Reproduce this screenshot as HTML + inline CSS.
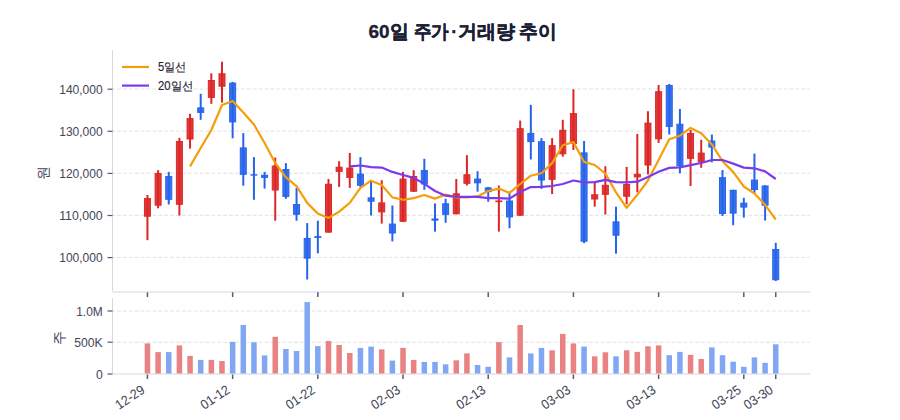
<!DOCTYPE html><html><head><meta charset="utf-8"><style>html,body{margin:0;padding:0;background:#fff;}svg{display:block;font-family:"Liberation Sans",sans-serif;}</style></head><body>
<svg width="900" height="420" viewBox="0 0 900 420">
<rect width="900" height="420" fill="#fff"/>
<line x1="112.5" y1="89.0" x2="810.0" y2="89.0" stroke="#e0e2e7" stroke-width="1" stroke-dasharray="3.9,2" stroke-dashoffset="1.4"/>
<line x1="112.5" y1="131.1" x2="810.0" y2="131.1" stroke="#e0e2e7" stroke-width="1" stroke-dasharray="3.9,2" stroke-dashoffset="1.4"/>
<line x1="112.5" y1="173.2" x2="810.0" y2="173.2" stroke="#e0e2e7" stroke-width="1" stroke-dasharray="3.9,2" stroke-dashoffset="1.4"/>
<line x1="112.5" y1="215.3" x2="810.0" y2="215.3" stroke="#e0e2e7" stroke-width="1" stroke-dasharray="3.9,2" stroke-dashoffset="1.4"/>
<line x1="112.5" y1="257.4" x2="810.0" y2="257.4" stroke="#e0e2e7" stroke-width="1" stroke-dasharray="3.9,2" stroke-dashoffset="1.4"/>
<line x1="112.5" y1="311.0" x2="810.0" y2="311.0" stroke="#e0e2e7" stroke-width="1" stroke-dasharray="3.9,2" stroke-dashoffset="1.4"/>
<line x1="112.5" y1="342.25" x2="810.0" y2="342.25" stroke="#e0e2e7" stroke-width="1" stroke-dasharray="3.9,2" stroke-dashoffset="1.4"/>
<line x1="112.5" y1="50.0" x2="112.5" y2="291.5" stroke="#d5d8df" stroke-width="1"/>
<line x1="112.5" y1="292" x2="810.0" y2="292" stroke="#d5d8df" stroke-width="1.2"/>
<line x1="112.5" y1="298.0" x2="112.5" y2="373.5" stroke="#d5d8df" stroke-width="1"/>
<line x1="112.5" y1="374" x2="810.0" y2="374" stroke="#d5d8df" stroke-width="1.2"/>
<line x1="107.5" y1="89.2" x2="112.5" y2="89.2" stroke="#555c6b" stroke-width="1.2"/>
<text x="102.7" y="94.0" text-anchor="end" font-size="13" fill="#3e4657" textLength="43.5" lengthAdjust="spacingAndGlyphs">140,000</text>
<line x1="107.5" y1="131.3" x2="112.5" y2="131.3" stroke="#555c6b" stroke-width="1.2"/>
<text x="102.7" y="136.10000000000002" text-anchor="end" font-size="13" fill="#3e4657" textLength="43.5" lengthAdjust="spacingAndGlyphs">130,000</text>
<line x1="107.5" y1="173.4" x2="112.5" y2="173.4" stroke="#555c6b" stroke-width="1.2"/>
<text x="102.7" y="178.20000000000002" text-anchor="end" font-size="13" fill="#3e4657" textLength="43.5" lengthAdjust="spacingAndGlyphs">120,000</text>
<line x1="107.5" y1="215.5" x2="112.5" y2="215.5" stroke="#555c6b" stroke-width="1.2"/>
<text x="102.7" y="220.3" text-anchor="end" font-size="13" fill="#3e4657" textLength="43.5" lengthAdjust="spacingAndGlyphs">110,000</text>
<line x1="107.5" y1="257.6" x2="112.5" y2="257.6" stroke="#555c6b" stroke-width="1.2"/>
<text x="102.7" y="262.40000000000003" text-anchor="end" font-size="13" fill="#3e4657" textLength="43.5" lengthAdjust="spacingAndGlyphs">100,000</text>
<line x1="107.5" y1="311.0" x2="112.5" y2="311.0" stroke="#555c6b" stroke-width="1.2"/>
<text x="102.7" y="316.2" text-anchor="end" font-size="13" fill="#3e4657" textLength="26.5" lengthAdjust="spacingAndGlyphs">1.0M</text>
<line x1="107.5" y1="342.2" x2="112.5" y2="342.2" stroke="#555c6b" stroke-width="1.2"/>
<text x="102.7" y="347.4" text-anchor="end" font-size="13" fill="#3e4657" textLength="28.5" lengthAdjust="spacingAndGlyphs">500K</text>
<line x1="107.5" y1="374" x2="112.5" y2="374" stroke="#555c6b" stroke-width="1.2"/>
<text x="102.7" y="379.2" text-anchor="end" font-size="13" fill="#3e4657" textLength="6.8" lengthAdjust="spacingAndGlyphs">0</text>
<line x1="147.45" y1="292.3" x2="147.45" y2="297" stroke="#555c6b" stroke-width="1.5"/>
<line x1="147.45" y1="374.5" x2="147.45" y2="379" stroke="#555c6b" stroke-width="1.5"/>
<text transform="translate(145.65,392.0) rotate(-34)" text-anchor="end" font-size="13.3" fill="#3e4657" textLength="32" lengthAdjust="spacingAndGlyphs">12-29</text>
<line x1="232.64" y1="292.3" x2="232.64" y2="297" stroke="#555c6b" stroke-width="1.5"/>
<line x1="232.64" y1="374.5" x2="232.64" y2="379" stroke="#555c6b" stroke-width="1.5"/>
<text transform="translate(230.84,392.0) rotate(-34)" text-anchor="end" font-size="13.3" fill="#3e4657" textLength="32" lengthAdjust="spacingAndGlyphs">01-12</text>
<line x1="317.84" y1="292.3" x2="317.84" y2="297" stroke="#555c6b" stroke-width="1.5"/>
<line x1="317.84" y1="374.5" x2="317.84" y2="379" stroke="#555c6b" stroke-width="1.5"/>
<text transform="translate(316.04,392.0) rotate(-34)" text-anchor="end" font-size="13.3" fill="#3e4657" textLength="32" lengthAdjust="spacingAndGlyphs">01-22</text>
<line x1="403.03" y1="292.3" x2="403.03" y2="297" stroke="#555c6b" stroke-width="1.5"/>
<line x1="403.03" y1="374.5" x2="403.03" y2="379" stroke="#555c6b" stroke-width="1.5"/>
<text transform="translate(401.23,392.0) rotate(-34)" text-anchor="end" font-size="13.3" fill="#3e4657" textLength="32" lengthAdjust="spacingAndGlyphs">02-03</text>
<line x1="488.22" y1="292.3" x2="488.22" y2="297" stroke="#555c6b" stroke-width="1.5"/>
<line x1="488.22" y1="374.5" x2="488.22" y2="379" stroke="#555c6b" stroke-width="1.5"/>
<text transform="translate(486.42,392.0) rotate(-34)" text-anchor="end" font-size="13.3" fill="#3e4657" textLength="32" lengthAdjust="spacingAndGlyphs">02-13</text>
<line x1="573.42" y1="292.3" x2="573.42" y2="297" stroke="#555c6b" stroke-width="1.5"/>
<line x1="573.42" y1="374.5" x2="573.42" y2="379" stroke="#555c6b" stroke-width="1.5"/>
<text transform="translate(571.62,392.0) rotate(-34)" text-anchor="end" font-size="13.3" fill="#3e4657" textLength="32" lengthAdjust="spacingAndGlyphs">03-03</text>
<line x1="658.61" y1="292.3" x2="658.61" y2="297" stroke="#555c6b" stroke-width="1.5"/>
<line x1="658.61" y1="374.5" x2="658.61" y2="379" stroke="#555c6b" stroke-width="1.5"/>
<text transform="translate(656.81,392.0) rotate(-34)" text-anchor="end" font-size="13.3" fill="#3e4657" textLength="32" lengthAdjust="spacingAndGlyphs">03-13</text>
<line x1="743.80" y1="292.3" x2="743.80" y2="297" stroke="#555c6b" stroke-width="1.5"/>
<line x1="743.80" y1="374.5" x2="743.80" y2="379" stroke="#555c6b" stroke-width="1.5"/>
<text transform="translate(742.00,392.0) rotate(-34)" text-anchor="end" font-size="13.3" fill="#3e4657" textLength="32" lengthAdjust="spacingAndGlyphs">03-25</text>
<line x1="775.75" y1="292.3" x2="775.75" y2="297" stroke="#555c6b" stroke-width="1.5"/>
<line x1="775.75" y1="374.5" x2="775.75" y2="379" stroke="#555c6b" stroke-width="1.5"/>
<text transform="translate(773.95,392.0) rotate(-34)" text-anchor="end" font-size="13.3" fill="#3e4657" textLength="32" lengthAdjust="spacingAndGlyphs">03-30</text>
<rect x="144.70" y="343.4" width="5.5" height="30.1" fill="#e98282"/>
<rect x="155.35" y="352.1" width="5.5" height="21.4" fill="#e98282"/>
<rect x="166.00" y="352.1" width="5.5" height="21.4" fill="#81a6f2"/>
<rect x="176.65" y="345.4" width="5.5" height="28.1" fill="#e98282"/>
<rect x="187.30" y="355.9" width="5.5" height="17.6" fill="#e98282"/>
<rect x="197.95" y="359.9" width="5.5" height="13.6" fill="#81a6f2"/>
<rect x="208.59" y="359.9" width="5.5" height="13.6" fill="#e98282"/>
<rect x="219.24" y="361.0" width="5.5" height="12.5" fill="#e98282"/>
<rect x="229.89" y="341.9" width="5.5" height="31.6" fill="#81a6f2"/>
<rect x="240.54" y="325.0" width="5.5" height="48.5" fill="#81a6f2"/>
<rect x="251.19" y="342.3" width="5.5" height="31.2" fill="#81a6f2"/>
<rect x="261.84" y="355.4" width="5.5" height="18.1" fill="#81a6f2"/>
<rect x="272.49" y="336.8" width="5.5" height="36.7" fill="#e98282"/>
<rect x="283.14" y="349.0" width="5.5" height="24.5" fill="#81a6f2"/>
<rect x="293.79" y="351.0" width="5.5" height="22.5" fill="#81a6f2"/>
<rect x="304.44" y="302.1" width="5.5" height="71.4" fill="#81a6f2"/>
<rect x="315.09" y="346.1" width="5.5" height="27.4" fill="#81a6f2"/>
<rect x="325.74" y="341.0" width="5.5" height="32.5" fill="#e98282"/>
<rect x="336.38" y="345.0" width="5.5" height="28.5" fill="#e98282"/>
<rect x="347.03" y="353.0" width="5.5" height="20.5" fill="#e98282"/>
<rect x="357.68" y="347.9" width="5.5" height="25.6" fill="#81a6f2"/>
<rect x="368.33" y="346.6" width="5.5" height="26.9" fill="#81a6f2"/>
<rect x="378.98" y="349.4" width="5.5" height="24.1" fill="#e98282"/>
<rect x="389.63" y="360.6" width="5.5" height="12.9" fill="#81a6f2"/>
<rect x="400.28" y="347.9" width="5.5" height="25.6" fill="#e98282"/>
<rect x="410.93" y="359.9" width="5.5" height="13.6" fill="#e98282"/>
<rect x="421.58" y="361.9" width="5.5" height="11.6" fill="#81a6f2"/>
<rect x="432.23" y="361.9" width="5.5" height="11.6" fill="#81a6f2"/>
<rect x="442.88" y="364.3" width="5.5" height="9.2" fill="#81a6f2"/>
<rect x="453.53" y="360.3" width="5.5" height="13.2" fill="#e98282"/>
<rect x="464.17" y="353.4" width="5.5" height="20.1" fill="#e98282"/>
<rect x="474.82" y="365.0" width="5.5" height="8.5" fill="#81a6f2"/>
<rect x="485.47" y="366.8" width="5.5" height="6.7" fill="#81a6f2"/>
<rect x="496.12" y="342.1" width="5.5" height="31.4" fill="#e98282"/>
<rect x="506.77" y="357.4" width="5.5" height="16.1" fill="#81a6f2"/>
<rect x="517.42" y="325.0" width="5.5" height="48.5" fill="#e98282"/>
<rect x="528.07" y="353.4" width="5.5" height="20.1" fill="#81a6f2"/>
<rect x="538.72" y="347.9" width="5.5" height="25.6" fill="#81a6f2"/>
<rect x="549.37" y="350.3" width="5.5" height="23.2" fill="#e98282"/>
<rect x="560.02" y="333.9" width="5.5" height="39.6" fill="#e98282"/>
<rect x="570.67" y="343.4" width="5.5" height="30.1" fill="#e98282"/>
<rect x="581.32" y="346.6" width="5.5" height="26.9" fill="#81a6f2"/>
<rect x="591.96" y="356.3" width="5.5" height="17.2" fill="#e98282"/>
<rect x="602.61" y="352.3" width="5.5" height="21.2" fill="#e98282"/>
<rect x="613.26" y="356.3" width="5.5" height="17.2" fill="#81a6f2"/>
<rect x="623.91" y="350.3" width="5.5" height="23.2" fill="#e98282"/>
<rect x="634.56" y="351.9" width="5.5" height="21.6" fill="#e98282"/>
<rect x="645.21" y="346.3" width="5.5" height="27.2" fill="#e98282"/>
<rect x="655.86" y="345.4" width="5.5" height="28.1" fill="#e98282"/>
<rect x="666.51" y="355.2" width="5.5" height="18.3" fill="#81a6f2"/>
<rect x="677.16" y="351.9" width="5.5" height="21.6" fill="#81a6f2"/>
<rect x="687.81" y="354.8" width="5.5" height="18.7" fill="#e98282"/>
<rect x="698.46" y="359.0" width="5.5" height="14.5" fill="#e98282"/>
<rect x="709.11" y="347.4" width="5.5" height="26.1" fill="#81a6f2"/>
<rect x="719.75" y="355.2" width="5.5" height="18.3" fill="#81a6f2"/>
<rect x="730.40" y="361.7" width="5.5" height="11.8" fill="#81a6f2"/>
<rect x="741.05" y="366.8" width="5.5" height="6.7" fill="#81a6f2"/>
<rect x="751.70" y="357.4" width="5.5" height="16.1" fill="#81a6f2"/>
<rect x="762.35" y="362.8" width="5.5" height="10.7" fill="#81a6f2"/>
<rect x="773.00" y="344.3" width="5.5" height="29.2" fill="#81a6f2"/>
<line x1="147.45" y1="195" x2="147.45" y2="240.2" stroke="#dc2626" stroke-width="2"/>
<rect x="144.45" y="198.6" width="6.0" height="17.6" fill="#dc2626" fill-opacity="0.9" stroke="#dc2626" stroke-width="1"/>
<line x1="158.10" y1="170.2" x2="158.10" y2="208.3" stroke="#dc2626" stroke-width="2"/>
<rect x="155.10" y="173.6" width="6.0" height="31.6" fill="#dc2626" fill-opacity="0.9" stroke="#dc2626" stroke-width="1"/>
<line x1="168.75" y1="171.9" x2="168.75" y2="204.5" stroke="#2563eb" stroke-width="2"/>
<rect x="165.75" y="176.5" width="6.0" height="22.8" fill="#2563eb" fill-opacity="0.9" stroke="#2563eb" stroke-width="1"/>
<line x1="179.40" y1="137.9" x2="179.40" y2="215.5" stroke="#dc2626" stroke-width="2"/>
<rect x="176.40" y="141.5" width="6.0" height="62.8" fill="#dc2626" fill-opacity="0.9" stroke="#dc2626" stroke-width="1"/>
<line x1="190.05" y1="113.8" x2="190.05" y2="148.6" stroke="#dc2626" stroke-width="2"/>
<rect x="187.05" y="118.6" width="6.0" height="20.4" fill="#dc2626" fill-opacity="0.9" stroke="#dc2626" stroke-width="1"/>
<line x1="200.70" y1="93.8" x2="200.70" y2="119.8" stroke="#2563eb" stroke-width="2"/>
<rect x="197.70" y="107.9" width="6.0" height="4.5" fill="#2563eb" fill-opacity="0.9" stroke="#2563eb" stroke-width="1"/>
<line x1="211.34" y1="73.3" x2="211.34" y2="103.8" stroke="#dc2626" stroke-width="2"/>
<rect x="208.34" y="80.5" width="6.0" height="16.9" fill="#dc2626" fill-opacity="0.9" stroke="#dc2626" stroke-width="1"/>
<line x1="221.99" y1="61.7" x2="221.99" y2="102.6" stroke="#dc2626" stroke-width="2"/>
<rect x="218.99" y="73.8" width="6.0" height="12.4" fill="#dc2626" fill-opacity="0.9" stroke="#dc2626" stroke-width="1"/>
<line x1="232.64" y1="81.9" x2="232.64" y2="138.3" stroke="#2563eb" stroke-width="2"/>
<rect x="229.64" y="83.1" width="6.0" height="38.8" fill="#2563eb" fill-opacity="0.9" stroke="#2563eb" stroke-width="1"/>
<line x1="243.29" y1="133.1" x2="243.29" y2="185.7" stroke="#2563eb" stroke-width="2"/>
<rect x="240.29" y="147.9" width="6.0" height="26.4" fill="#2563eb" fill-opacity="0.9" stroke="#2563eb" stroke-width="1"/>
<line x1="253.94" y1="157.1" x2="253.94" y2="199.8" stroke="#2563eb" stroke-width="2"/>
<rect x="250.94" y="174.8" width="6.0" height="0.3" fill="#2563eb" fill-opacity="0.9" stroke="#2563eb" stroke-width="1"/>
<line x1="264.59" y1="171.9" x2="264.59" y2="188.6" stroke="#2563eb" stroke-width="2"/>
<rect x="261.59" y="175.3" width="6.0" height="2.1" fill="#2563eb" fill-opacity="0.9" stroke="#2563eb" stroke-width="1"/>
<line x1="275.24" y1="157.6" x2="275.24" y2="220.7" stroke="#dc2626" stroke-width="2"/>
<rect x="272.24" y="166.0" width="6.0" height="24.0" fill="#dc2626" fill-opacity="0.9" stroke="#dc2626" stroke-width="1"/>
<line x1="285.89" y1="163.1" x2="285.89" y2="198.8" stroke="#2563eb" stroke-width="2"/>
<rect x="282.89" y="169.5" width="6.0" height="26.9" fill="#2563eb" fill-opacity="0.9" stroke="#2563eb" stroke-width="1"/>
<line x1="296.54" y1="187.9" x2="296.54" y2="220.7" stroke="#2563eb" stroke-width="2"/>
<rect x="293.54" y="204.5" width="6.0" height="9.8" fill="#2563eb" fill-opacity="0.9" stroke="#2563eb" stroke-width="1"/>
<line x1="307.19" y1="223.1" x2="307.19" y2="279.5" stroke="#2563eb" stroke-width="2"/>
<rect x="304.19" y="238.4" width="6.0" height="19.7" fill="#2563eb" fill-opacity="0.9" stroke="#2563eb" stroke-width="1"/>
<line x1="317.84" y1="220.7" x2="317.84" y2="253.3" stroke="#2563eb" stroke-width="2"/>
<rect x="314.84" y="236.7" width="6.0" height="0.7" fill="#2563eb" fill-opacity="0.9" stroke="#2563eb" stroke-width="1"/>
<line x1="328.49" y1="179" x2="328.49" y2="232.6" stroke="#dc2626" stroke-width="2"/>
<rect x="325.49" y="184.3" width="6.0" height="47.8" fill="#dc2626" fill-opacity="0.9" stroke="#dc2626" stroke-width="1"/>
<line x1="339.13" y1="161.2" x2="339.13" y2="186.9" stroke="#dc2626" stroke-width="2"/>
<rect x="336.13" y="167.2" width="6.0" height="4.2" fill="#dc2626" fill-opacity="0.9" stroke="#dc2626" stroke-width="1"/>
<line x1="349.78" y1="152.9" x2="349.78" y2="187.9" stroke="#dc2626" stroke-width="2"/>
<rect x="346.78" y="168.1" width="6.0" height="9.3" fill="#dc2626" fill-opacity="0.9" stroke="#dc2626" stroke-width="1"/>
<line x1="360.43" y1="157.1" x2="360.43" y2="186.9" stroke="#2563eb" stroke-width="2"/>
<rect x="357.43" y="174.1" width="6.0" height="11.1" fill="#2563eb" fill-opacity="0.9" stroke="#2563eb" stroke-width="1"/>
<line x1="371.08" y1="181.4" x2="371.08" y2="215.5" stroke="#2563eb" stroke-width="2"/>
<rect x="368.08" y="197.9" width="6.0" height="3.3" fill="#2563eb" fill-opacity="0.9" stroke="#2563eb" stroke-width="1"/>
<line x1="381.73" y1="180.2" x2="381.73" y2="223.6" stroke="#dc2626" stroke-width="2"/>
<rect x="378.73" y="202.9" width="6.0" height="9.0" fill="#dc2626" fill-opacity="0.9" stroke="#dc2626" stroke-width="1"/>
<line x1="392.38" y1="205.5" x2="392.38" y2="241.4" stroke="#2563eb" stroke-width="2"/>
<rect x="389.38" y="224.1" width="6.0" height="8.9" fill="#2563eb" fill-opacity="0.9" stroke="#2563eb" stroke-width="1"/>
<line x1="403.03" y1="171.9" x2="403.03" y2="221.8" stroke="#dc2626" stroke-width="2"/>
<rect x="400.03" y="179.1" width="6.0" height="42.2" fill="#dc2626" fill-opacity="0.9" stroke="#dc2626" stroke-width="1"/>
<line x1="413.68" y1="170.2" x2="413.68" y2="191.7" stroke="#dc2626" stroke-width="2"/>
<rect x="410.68" y="176.5" width="6.0" height="14.7" fill="#dc2626" fill-opacity="0.9" stroke="#dc2626" stroke-width="1"/>
<line x1="424.33" y1="158.8" x2="424.33" y2="189.8" stroke="#2563eb" stroke-width="2"/>
<rect x="421.33" y="170.5" width="6.0" height="13.5" fill="#2563eb" fill-opacity="0.9" stroke="#2563eb" stroke-width="1"/>
<line x1="434.98" y1="203.5" x2="434.98" y2="231.6" stroke="#2563eb" stroke-width="2"/>
<rect x="431.98" y="219.0" width="6.0" height="1.1" fill="#2563eb" fill-opacity="0.9" stroke="#2563eb" stroke-width="1"/>
<line x1="445.63" y1="198.8" x2="445.63" y2="222.8" stroke="#2563eb" stroke-width="2"/>
<rect x="442.63" y="203.8" width="6.0" height="10.5" fill="#2563eb" fill-opacity="0.9" stroke="#2563eb" stroke-width="1"/>
<line x1="456.28" y1="179" x2="456.28" y2="214.3" stroke="#dc2626" stroke-width="2"/>
<rect x="453.28" y="193.8" width="6.0" height="20.0" fill="#dc2626" fill-opacity="0.9" stroke="#dc2626" stroke-width="1"/>
<line x1="466.92" y1="155.2" x2="466.92" y2="185.5" stroke="#dc2626" stroke-width="2"/>
<rect x="463.92" y="174.8" width="6.0" height="8.5" fill="#dc2626" fill-opacity="0.9" stroke="#dc2626" stroke-width="1"/>
<line x1="477.57" y1="171.2" x2="477.57" y2="191.7" stroke="#2563eb" stroke-width="2"/>
<rect x="474.57" y="179.1" width="6.0" height="3.7" fill="#2563eb" fill-opacity="0.9" stroke="#2563eb" stroke-width="1"/>
<line x1="488.22" y1="186.9" x2="488.22" y2="201.7" stroke="#2563eb" stroke-width="2"/>
<rect x="485.22" y="187.9" width="6.0" height="3.7" fill="#2563eb" fill-opacity="0.9" stroke="#2563eb" stroke-width="1"/>
<line x1="498.87" y1="185.5" x2="498.87" y2="231.6" stroke="#dc2626" stroke-width="2"/>
<rect x="495.87" y="201.0" width="6.0" height="0.6" fill="#dc2626" fill-opacity="0.9" stroke="#dc2626" stroke-width="1"/>
<line x1="509.52" y1="191.7" x2="509.52" y2="228.2" stroke="#2563eb" stroke-width="2"/>
<rect x="506.52" y="201.0" width="6.0" height="15.9" fill="#2563eb" fill-opacity="0.9" stroke="#2563eb" stroke-width="1"/>
<line x1="520.17" y1="120.6" x2="520.17" y2="215.7" stroke="#dc2626" stroke-width="2"/>
<rect x="517.17" y="128.7" width="6.0" height="86.5" fill="#dc2626" fill-opacity="0.9" stroke="#dc2626" stroke-width="1"/>
<line x1="530.82" y1="104.8" x2="530.82" y2="159.5" stroke="#2563eb" stroke-width="2"/>
<rect x="527.82" y="133.4" width="6.0" height="8.2" fill="#2563eb" fill-opacity="0.9" stroke="#2563eb" stroke-width="1"/>
<line x1="541.47" y1="138.1" x2="541.47" y2="188.8" stroke="#2563eb" stroke-width="2"/>
<rect x="538.47" y="141.7" width="6.0" height="38.3" fill="#2563eb" fill-opacity="0.9" stroke="#2563eb" stroke-width="1"/>
<line x1="552.12" y1="138.1" x2="552.12" y2="194" stroke="#dc2626" stroke-width="2"/>
<rect x="549.12" y="145.7" width="6.0" height="33.6" fill="#dc2626" fill-opacity="0.9" stroke="#dc2626" stroke-width="1"/>
<line x1="562.77" y1="119.8" x2="562.77" y2="156.7" stroke="#dc2626" stroke-width="2"/>
<rect x="559.77" y="130.3" width="6.0" height="23.5" fill="#dc2626" fill-opacity="0.9" stroke="#dc2626" stroke-width="1"/>
<line x1="573.42" y1="89.3" x2="573.42" y2="150" stroke="#dc2626" stroke-width="2"/>
<rect x="570.42" y="113.6" width="6.0" height="29.9" fill="#dc2626" fill-opacity="0.9" stroke="#dc2626" stroke-width="1"/>
<line x1="584.07" y1="141" x2="584.07" y2="243.1" stroke="#2563eb" stroke-width="2"/>
<rect x="581.07" y="152.9" width="6.0" height="88.3" fill="#2563eb" fill-opacity="0.9" stroke="#2563eb" stroke-width="1"/>
<line x1="594.71" y1="182.9" x2="594.71" y2="206.7" stroke="#dc2626" stroke-width="2"/>
<rect x="591.71" y="194.8" width="6.0" height="4.2" fill="#dc2626" fill-opacity="0.9" stroke="#dc2626" stroke-width="1"/>
<line x1="605.36" y1="166.2" x2="605.36" y2="214.5" stroke="#dc2626" stroke-width="2"/>
<rect x="602.36" y="185.3" width="6.0" height="9.0" fill="#dc2626" fill-opacity="0.9" stroke="#dc2626" stroke-width="1"/>
<line x1="616.01" y1="206.7" x2="616.01" y2="253.6" stroke="#2563eb" stroke-width="2"/>
<rect x="613.01" y="221.9" width="6.0" height="13.3" fill="#2563eb" fill-opacity="0.9" stroke="#2563eb" stroke-width="1"/>
<line x1="626.66" y1="166.9" x2="626.66" y2="204.3" stroke="#dc2626" stroke-width="2"/>
<rect x="623.66" y="184.5" width="6.0" height="11.7" fill="#dc2626" fill-opacity="0.9" stroke="#dc2626" stroke-width="1"/>
<line x1="637.31" y1="134" x2="637.31" y2="192.4" stroke="#dc2626" stroke-width="2"/>
<rect x="634.31" y="174.3" width="6.0" height="2.6" fill="#dc2626" fill-opacity="0.9" stroke="#dc2626" stroke-width="1"/>
<line x1="647.96" y1="111.2" x2="647.96" y2="174.5" stroke="#dc2626" stroke-width="2"/>
<rect x="644.96" y="123.1" width="6.0" height="41.9" fill="#dc2626" fill-opacity="0.9" stroke="#dc2626" stroke-width="1"/>
<line x1="658.61" y1="85" x2="658.61" y2="142.9" stroke="#dc2626" stroke-width="2"/>
<rect x="655.61" y="91.7" width="6.0" height="47.1" fill="#dc2626" fill-opacity="0.9" stroke="#dc2626" stroke-width="1"/>
<line x1="669.26" y1="84" x2="669.26" y2="134.5" stroke="#2563eb" stroke-width="2"/>
<rect x="666.26" y="85.5" width="6.0" height="40.9" fill="#2563eb" fill-opacity="0.9" stroke="#2563eb" stroke-width="1"/>
<line x1="679.91" y1="109" x2="679.91" y2="173.3" stroke="#2563eb" stroke-width="2"/>
<rect x="676.91" y="124.3" width="6.0" height="41.4" fill="#2563eb" fill-opacity="0.9" stroke="#2563eb" stroke-width="1"/>
<line x1="690.56" y1="130" x2="690.56" y2="186" stroke="#dc2626" stroke-width="2"/>
<rect x="687.56" y="133.5" width="6.0" height="24.8" fill="#dc2626" fill-opacity="0.9" stroke="#dc2626" stroke-width="1"/>
<line x1="701.21" y1="139.8" x2="701.21" y2="167.8" stroke="#dc2626" stroke-width="2"/>
<rect x="698.21" y="153.1" width="6.0" height="8.8" fill="#dc2626" fill-opacity="0.9" stroke="#dc2626" stroke-width="1"/>
<line x1="711.86" y1="134.5" x2="711.86" y2="162.4" stroke="#2563eb" stroke-width="2"/>
<rect x="708.86" y="141.0" width="6.0" height="6.1" fill="#2563eb" fill-opacity="0.9" stroke="#2563eb" stroke-width="1"/>
<line x1="722.50" y1="170" x2="722.50" y2="216" stroke="#2563eb" stroke-width="2"/>
<rect x="719.50" y="177.7" width="6.0" height="35.8" fill="#2563eb" fill-opacity="0.9" stroke="#2563eb" stroke-width="1"/>
<line x1="733.15" y1="189.8" x2="733.15" y2="225.2" stroke="#2563eb" stroke-width="2"/>
<rect x="730.15" y="190.3" width="6.0" height="22.8" fill="#2563eb" fill-opacity="0.9" stroke="#2563eb" stroke-width="1"/>
<line x1="743.80" y1="197.8" x2="743.80" y2="217.6" stroke="#2563eb" stroke-width="2"/>
<rect x="740.80" y="203.2" width="6.0" height="3.9" fill="#2563eb" fill-opacity="0.9" stroke="#2563eb" stroke-width="1"/>
<line x1="754.45" y1="153.6" x2="754.45" y2="193" stroke="#2563eb" stroke-width="2"/>
<rect x="751.45" y="180.1" width="6.0" height="9.4" fill="#2563eb" fill-opacity="0.9" stroke="#2563eb" stroke-width="1"/>
<line x1="765.10" y1="185.2" x2="765.10" y2="220.5" stroke="#2563eb" stroke-width="2"/>
<rect x="762.10" y="186.0" width="6.0" height="19.2" fill="#2563eb" fill-opacity="0.9" stroke="#2563eb" stroke-width="1"/>
<line x1="775.75" y1="242.8" x2="775.75" y2="281" stroke="#2563eb" stroke-width="2"/>
<rect x="772.75" y="249.5" width="6.0" height="30.2" fill="#2563eb" fill-opacity="0.9" stroke="#2563eb" stroke-width="1"/>
<path d="M190.05,166.4 L200.70,148 L211.34,130 L221.99,105 L232.64,101 L243.29,112.5 L253.94,124.5 L264.59,143 L275.24,163 L285.89,177.4 L296.54,186.2 L307.19,202.9 L317.84,213.6 L328.49,217.9 L339.13,211.7 L349.78,202.9 L360.43,187.9 L371.08,180.7 L381.73,185 L392.38,197.4 L403.03,199.8 L413.68,198.1 L424.33,195 L434.98,198.6 L445.63,194.5 L456.28,197.4 L466.92,197.4 L477.57,196.4 L488.22,191 L498.87,188.6 L509.52,192.9 L520.17,184 L530.82,175.7 L541.47,173.3 L552.12,163.1 L562.77,145.2 L573.42,142.1 L584.07,161.9 L594.71,165 L605.36,173.5 L616.01,192.4 L626.66,207.9 L637.31,194.8 L647.96,180.5 L658.61,160 L669.26,139.3 L679.91,135.7 L690.56,127.9 L701.21,133.3 L711.86,144.5 L722.50,161.2 L733.15,171.9 L743.80,186.5 L754.45,193.5 L765.10,204.8 L775.75,219.5" fill="none" stroke="#f59e0b" stroke-width="2.2" stroke-linejoin="round"/>
<path d="M349.78,166.4 L360.43,165.5 L371.08,167.1 L381.73,167.6 L392.38,171.9 L403.03,175 L413.68,177.9 L424.33,183.8 L434.98,191 L445.63,195.7 L456.28,196.9 L466.92,196.9 L477.57,196.9 L488.22,198.1 L498.87,198.1 L509.52,198.6 L520.17,192 L530.82,187.1 L541.47,186.9 L552.12,186 L562.77,184 L573.42,180.5 L584.07,182.4 L594.71,182.1 L605.36,179.8 L616.01,182.1 L626.66,182.4 L637.31,181.7 L647.96,176.9 L658.61,171.7 L669.26,167.9 L679.91,167.4 L690.56,165.1 L701.21,163 L711.86,160 L722.50,160 L733.15,163.6 L743.80,167.6 L754.45,168.3 L765.10,171.4 L775.75,179" fill="none" stroke="#7c3aed" stroke-width="2.2" stroke-linejoin="round"/>
<line x1="122" y1="67" x2="149" y2="67" stroke="#f59e0b" stroke-width="2.2"/>
<line x1="122" y1="85.6" x2="149" y2="85.6" stroke="#7c3aed" stroke-width="2.2"/>
<text x="158" y="71.3" font-size="12" fill="#1f2430" stroke="#1f2430" stroke-width="0.15" textLength="28.5" lengthAdjust="spacingAndGlyphs">5일선</text>
<text x="158" y="89.8" font-size="12" fill="#1f2430" stroke="#1f2430" stroke-width="0.15" textLength="35.2" lengthAdjust="spacingAndGlyphs">20일선</text>
<text transform="translate(48,172.6) rotate(-90)" text-anchor="middle" font-size="14" fill="#3e4657">원</text>
<text transform="translate(64,337.6) rotate(-90)" text-anchor="middle" font-size="14" fill="#3e4657">주</text>
<text x="368.5" y="38.3" font-size="19" font-weight="bold" fill="#1b2035" stroke="#1b2035" stroke-width="0.35" lengthAdjust="spacingAndGlyphs" textLength="40">60일</text>
<text x="413.5" y="38.3" font-size="19" font-weight="bold" fill="#1b2035" stroke="#1b2035" stroke-width="0.35" lengthAdjust="spacingAndGlyphs" textLength="35">주가</text>
<text x="451.2" y="38.3" font-size="19" font-weight="bold" fill="#1b2035" stroke="#1b2035" stroke-width="0.35" lengthAdjust="spacingAndGlyphs" textLength="6">·</text>
<text x="458" y="38.3" font-size="19" font-weight="bold" fill="#1b2035" stroke="#1b2035" stroke-width="0.35" lengthAdjust="spacingAndGlyphs" textLength="57">거래량</text>
<text x="518.8" y="38.3" font-size="19" font-weight="bold" fill="#1b2035" stroke="#1b2035" stroke-width="0.35" lengthAdjust="spacingAndGlyphs" textLength="37.5">추이</text>
</svg></body></html>
